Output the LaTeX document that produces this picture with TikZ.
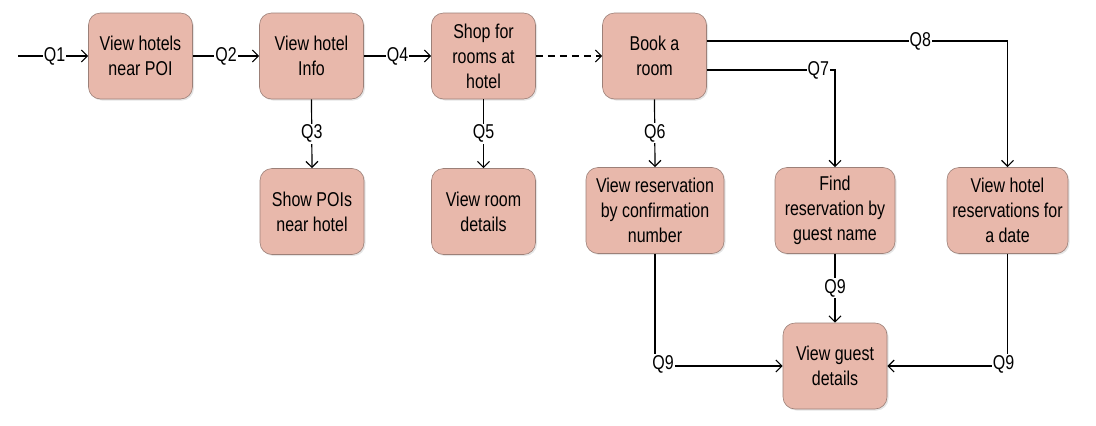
\documentclass[tikz,border=0pt]{standalone}
\usepackage{fontspec}
\setmainfont[FakeStretch=0.8]{Liberation Sans}
\usetikzlibrary{arrows.meta,shadows}
\definecolor{boxfill}{HTML}{E8B8AB}
\definecolor{boxline}{HTML}{9C8078}
\begin{document}
\begin{tikzpicture}[x=1pt,y=-1pt,
  box/.style={draw=boxline,line width=0.6pt,fill=boxfill,rounded corners=12pt,
    minimum width=104pt,minimum height=86pt,align=center,inner sep=2pt,
    font=\fontsize{20}{25}\selectfont,
    drop shadow={shadow xshift=1.5pt,shadow yshift=-1.5pt,opacity=0.25,fill=black!40}},
  wide/.style={minimum width=#1},
  lab/.style={fill=white,inner sep=1pt,font=\fontsize{20}{22}\selectfont},
  conn/.style={line width=1.2pt,-{Straight Barb[length=6pt,width=12pt,line width=1.2pt]}}
]
\useasboundingbox (0,0) rectangle (1096,426);
\node[box] (poi) at (140.5,56) {View hotels\\near POI};
\node[box] (info) at (311.5,56) {View hotel\\Info};
\node[box] (shop) at (483.5,56) {Shop for\\rooms at\\hotel};
\node[box] (book) at (654.5,56) {Book a\\room};
\node[box] (show) at (312,211.5) {Show POIs\\near hotel};
\node[box] (room) at (483.5,211.5) {View room\\details};
\node[box,wide=138pt] (conf) at (655,210.5) {View reservation\\by confirmation\\number};
\node[box,wide=120pt] (find) at (835,210.5) {Find\\reservation by\\guest name};
\node[box,wide=121pt] (date) at (1007.5,210.5) {View hotel\\reservations for\\a date};
\node[box] (guest) at (835,366) {View guest\\details};

\coordinate (start) at (18,56);
\draw[conn] (start) -- node[lab,pos=0.52]{Q1} (poi.west);
\draw[conn] (poi.east) -- node[lab,pos=0.5]{Q2} (info.west);
\draw[conn] (info.east) -- node[lab,pos=0.5]{Q4} (shop.west);
\draw[conn,dashed,dash pattern=on 7pt off 5pt] (shop.east) -- (book.west);
\draw[conn] (info.south) -- node[lab]{Q3} (show.north);
\draw[conn] (shop.south) -- node[lab]{Q5} (room.north);
\draw[conn] (book.south) -- node[lab]{Q6} (conf.north);
\coordinate (b8) at (book.east |- 0,41);
\coordinate (b7) at (book.east |- 0,70);
\draw[conn] (b8) -| node[lab,pos=0.355]{Q8} (date.north);
\draw[conn] (b7) -| node[lab,pos=0.435]{Q7} (find.north);
\draw[conn] (find.south) -- node[lab]{Q9} (guest.north);
\coordinate (c1) at (conf.south |- guest.west);
\coordinate (c2) at (date.south |- guest.east);
\draw[line width=1.2pt] (conf.south) -- (c1);
\draw[conn] (c1) -- (guest.west);
\node[lab,fill=white] at ([xshift=8pt,yshift=2pt]c1) {Q9};
\draw[line width=1.2pt] (date.south) -- (c2);
\draw[conn] (c2) -- (guest.east);
\node[lab,fill=white] at ([xshift=-4pt,yshift=2pt]c2) {Q9};
\end{tikzpicture}
\end{document}
